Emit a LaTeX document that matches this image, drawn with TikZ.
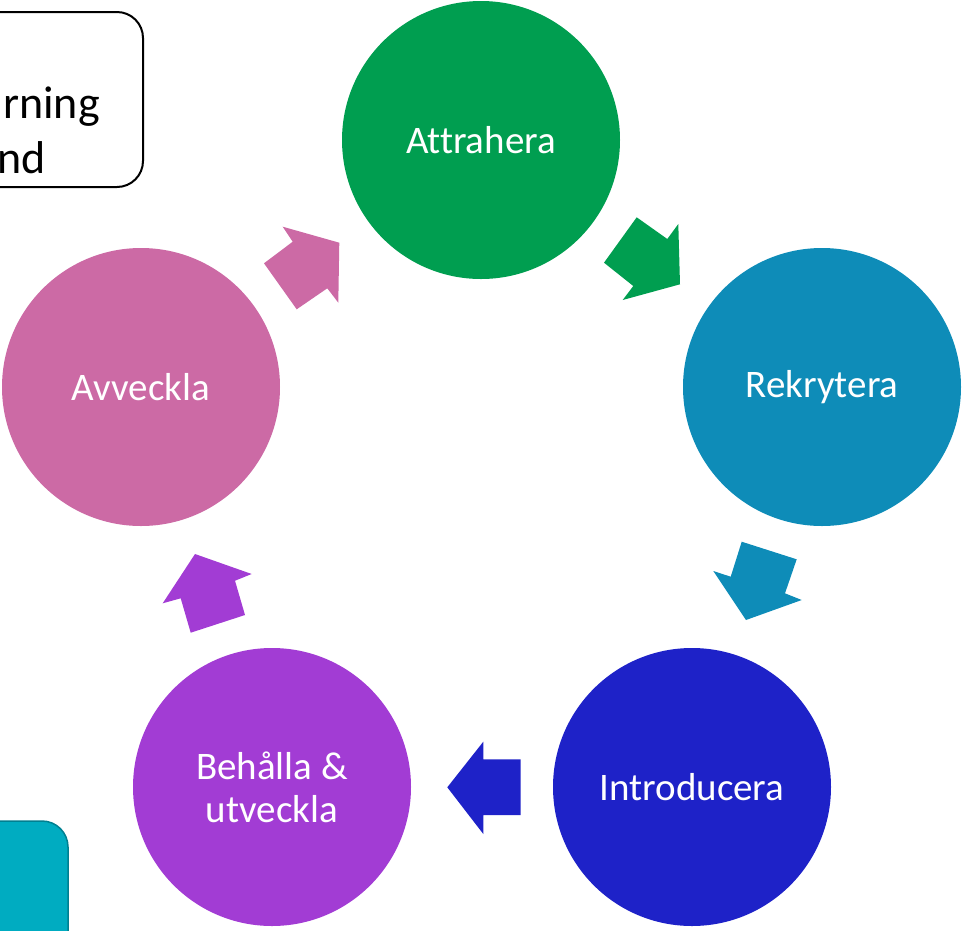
\documentclass[tikz,border=0pt]{standalone}
\usepackage{fontspec}
\setmainfont{Carlito}[Ligatures=NoCommon]
\definecolor{cgreen}{RGB}{0,158,80}
\definecolor{cteal}{RGB}{14,140,184}
\definecolor{cnavy}{RGB}{30,34,200}
\definecolor{cpurple}{RGB}{162,60,212}
\definecolor{cpink}{RGB}{204,106,165}
\definecolor{cbox}{RGB}{0,172,193}
\definecolor{cboxline}{RGB}{0,128,145}
\tikzset{
  stage/.style={circle, minimum size=278pt, inner sep=0pt, text=white, font=\fontsize{39}{43}\selectfont, align=center}
}
\begin{document}
\begin{tikzpicture}[x=1pt,y=-1pt]
\useasboundingbox (0,0) rectangle (962,930);
% partial boxes
\draw[line width=2pt, rounded corners=26pt] (-60,12) rectangle (143,187);
\node[anchor=base east, inner sep=0pt, font=\fontsize{46}{55}\selectfont] (t1) at (100,118) {rning};
\node[anchor=base east, inner sep=0pt, font=\fontsize{46}{55}\selectfont] (t2) at (46,173) {nd};
\draw[fill=cbox, draw=cboxline, line width=1.5pt, rounded corners=26pt] (-60,821) rectangle (68,1000);
% circles
\node[stage, fill=cgreen] (att) at (481,140) {Attrahera};
\node[stage, fill=cteal] (rek) at (822,387) {Rekrytera};
\node[stage, fill=cnavy] (int) at (692,787) {Introducera};
\node[stage, fill=cpurple] (beh) at (272,787) {Behålla \&\\utveckla};
\node[stage, fill=cpink] (avv) at (141,387) {Avveckla};
% arrows
\fill[cgreen] (636.7,217.3) -- (667.3,239) -- (678.3,224) -- (680,284.3) -- (622.7,300) -- (633.3,286) -- (604,262.7) -- cycle;
\fill[cteal] (741.7,541.7) -- (796.7,559.3) -- (785,593.3) -- (801.7,600) -- (746,620) -- (713.3,571) -- (730.7,576.7) -- cycle;
\fill[cnavy] (520.7,759.3) -- (483.3,759.3) -- (483.3,741.7) -- (447.3,787.3) -- (483.3,834) -- (483.3,815) -- (520.7,815) -- cycle;
\fill[cpurple] (245,615) -- (235,580.7) -- (251.7,574) -- (195,554) -- (162.7,603.3) -- (180.7,598.3) -- (190.7,632.7) -- cycle;
\fill[cpink] (264,263.3) -- (292.7,241.7) -- (282.7,226.7) -- (339.3,242.7) -- (338.3,302.7) -- (327.3,288.3) -- (296.7,309.3) -- cycle;
\end{tikzpicture}
\end{document}
